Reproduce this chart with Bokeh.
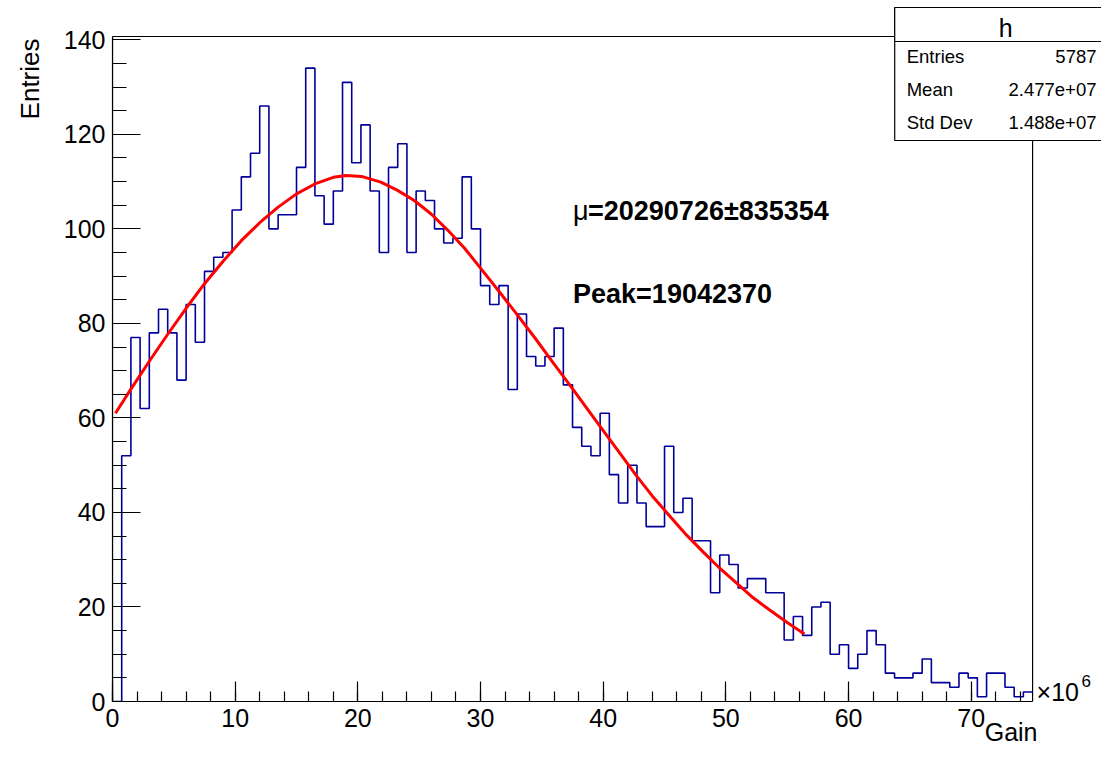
import numpy as np
from bokeh.plotting import figure
from bokeh.models import Range1d, SingleIntervalTicker, Label, BoxAnnotation, Title
from bokeh.embed import file_html
from bokeh.resources import INLINE

# ---------------- data ----------------
x_low, x_high, n_bins = 0.0, 75.0, 100          # Gain axis, units of 1e6
y_low, y_high = 0.0, 140.7
counts = [0, 52, 77, 62, 78, 83, 78, 68, 84, 76,
          91, 94, 95, 104, 111, 116, 126, 100, 103, 103,
          113, 134, 107, 101, 108, 131, 114, 122, 108, 95,
          113, 118, 95, 108, 106, 100, 97, 98, 111, 100,
          88, 84, 88, 66, 82, 73, 71, 73, 79, 67,
          58, 54, 52, 61, 48, 42, 50, 42, 37, 37,
          54, 40, 43, 34, 34, 23, 31, 29, 24, 26,
          26, 23, 23, 13, 18, 14, 20, 21, 10, 12,
          7, 10, 15, 12, 6, 5, 5, 6, 9, 4,
          4, 3, 6, 5, 1, 6, 6, 3, 1, 2]

fit_x = [0.24, 1.5, 3.0, 4.5, 6.0, 7.5, 9.0, 10.5, 12.0, 13.5,
         15.0, 16.5, 18.0, 19.04, 20.3, 21.87, 23.2, 24.6, 26.0, 27.3,
         28.7, 30.0, 31.5, 33.0, 34.5, 36.0, 37.3, 38.7, 40.0, 41.4,
         42.7, 44.0, 45.4, 46.8, 48.2, 49.5, 50.9, 52.2, 53.6, 55.0,
         56.4]
fit_y = [61.0, 66.1, 72.0, 77.7, 83.2, 88.4, 93.1, 97.5, 101.3, 104.6,
         107.4, 109.5, 110.9, 111.3, 111.1, 109.9, 108.2, 106.0, 103.1, 99.8,
         95.9, 91.7, 86.8, 81.8, 76.7, 71.4, 66.9, 61.9, 57.3, 52.4,
         47.8, 43.5, 39.3, 35.2, 31.5, 28.2, 25.0, 22.0, 19.3, 16.7,
         14.3]

stats_title = "h"
stats_names = ["Entries", "Mean", "Std Dev"]
stats_values = ["5787", "2.477e+07", "1.488e+07"]
fit_texts = ["=20290726\u00b1835354", "Peak=19042370"]
x_title, y_title = "Gain", "Entries"

# ---------------- layout ----------------
FIG_W, FIG_H = 1101, 748
L, B = 111, 47                       # Bokeh frame spans to the top/right canvas edges
ROOT_LEFT, ROOT_RIGHT, ROOT_TOP, ROOT_BOTTOM = 111, 1032, 36, 701
px_per_x = (ROOT_RIGHT - ROOT_LEFT) / (x_high - x_low)
px_per_y = (ROOT_BOTTOM - ROOT_TOP) / (y_high - y_low)
x_end = x_low + (FIG_W - ROOT_LEFT) / px_per_x
y_end = y_low + ROOT_BOTTOM / px_per_y
BASE_SHIFT = 9   # compensation between wanted baseline and rendered one


def dx(px):
    return x_low + (px - ROOT_LEFT) / px_per_x


def dy(py):
    return y_low + (ROOT_BOTTOM - py) / px_per_y


FONT = "Liberation Sans"

p = figure(width=FIG_W, height=FIG_H,
           x_range=Range1d(x_low, x_end), y_range=Range1d(y_low, y_end),
           output_backend="svg", toolbar_location=None,
           min_border_left=L, min_border_right=0,
           min_border_top=0, min_border_bottom=B)
p.title.visible = False
p.xgrid.visible = False
p.ygrid.visible = False
p.outline_line_color = None
p.background_fill_color = "white"
p.border_fill_color = "white"

for ax in (p.xaxis[0], p.yaxis[0]):
    ax.axis_line_color = "black"
    ax.axis_line_width = 1.2
    ax.major_tick_line_color = "black"
    ax.minor_tick_line_color = "black"
    ax.major_tick_line_width = 1.2
    ax.minor_tick_line_width = 1.2
    ax.major_tick_out = 0
    ax.minor_tick_out = 0
    ax.major_label_text_font = FONT
    ax.major_label_text_font_size = "25px"
    ax.major_label_text_color = "black"
    ax.major_label_standoff = 7

p.xaxis.bounds = (x_low, x_high)
p.xaxis.ticker = SingleIntervalTicker(interval=10, num_minor_ticks=5)
p.xaxis.major_tick_in = 20
p.xaxis.minor_tick_in = 10
p.yaxis.bounds = (y_low, y_high)
p.yaxis.ticker = SingleIntervalTicker(interval=20, num_minor_ticks=4)
p.yaxis.major_tick_in = 28
p.yaxis.minor_tick_in = 14

# ROOT-style frame box (top and right sides)
p.add_layout(BoxAnnotation(left=x_low, right=x_high, bottom=y_low, top=y_high,
                           fill_alpha=0.0, line_color="black", line_width=1.2,
                           line_alpha=1.0, level="underlay"))

# histogram outline
edges = np.linspace(x_low, x_high, n_bins + 1)
p.step(x=edges, y=list(counts) + [counts[-1]], mode="after",
       line_color="#000099", line_width=1.6)

# fit curve
p.line(fit_x, fit_y, line_color="#ff0000", line_width=3, line_join="round")


def add_label(px, py, text, size, align="left", bold=False):
    p.add_layout(Label(x=dx(px), y=dy(py - BASE_SHIFT), text=text,
                       text_align=align, text_baseline="alphabetic",
                       text_font=FONT, text_font_size=size,
                       text_font_style="bold" if bold else "normal",
                       text_color="black"))


# axis titles (outside the frame -> side-panel titles)
p.add_layout(Title(text=y_title, align="right", vertical_align="top",
                   offset=38, standoff=28, text_font=FONT,
                   text_font_size="26px", text_font_style="normal",
                   text_color="black"), "left")
p.add_layout(Title(text=x_title, align="right", vertical_align="top",
                   offset=64, standoff=-24, text_font=FONT,
                   text_font_size="25px", text_font_style="normal",
                   text_color="black"), "below")

# x10^6 multiplier
add_label(1036, 700, "\u00d710", "25px")
add_label(1081, 689, "6", "17px")

# fit result texts
add_label(572, 219, "\u03bc", "27px")
add_label(587, 219, fit_texts[0], "27px", bold=True)
add_label(572, 302, fit_texts[1], "27px", bold=True)

# stats box
for top, bottom in ((7, 140), (7, 41)):
    p.add_layout(BoxAnnotation(left=dx(894), right=dx(1140), top=dy(top), bottom=dy(bottom),
                               fill_color="white", fill_alpha=1.0,
                               line_color="black", line_width=1.2, line_alpha=1.0))
add_label(1005, 36, stats_title, "25px", align="center")
for i, (nm, vl) in enumerate(zip(stats_names, stats_values)):
    add_label(906, 65 + 33 * i, nm, "18.5px")
    add_label(1096, 65 + 33 * i, vl, "18.5px", align="right")

open("out.html", "w").write(file_html(p, INLINE))
